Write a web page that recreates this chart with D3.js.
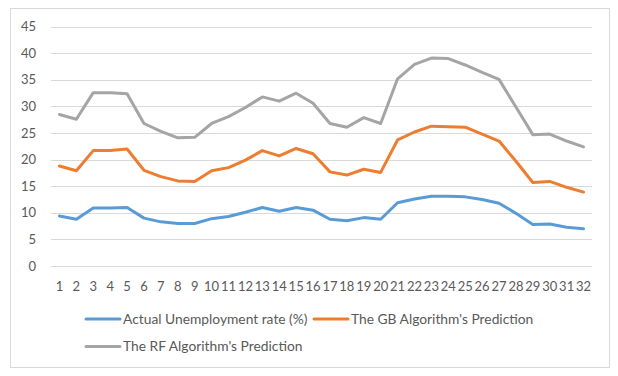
<!DOCTYPE html>
<html>
<head>
<meta charset="utf-8">
<script src="https://cdn.jsdelivr.net/npm/d3@7"></script>
<style>
  body { margin: 0; background: #fff; }
  text { font-family: Lato, "Open Sans", sans-serif; fill: #595959; }
</style>
</head>
<body>
<div id="chart"></div>
<script>
let width = 618;
let height = 376;

// datos
const periods = d3.range(1, 33);
const actual = [9.4, 8.8, 10.9, 10.9, 11.0, 9.0, 8.3, 8.0, 8.0, 8.9, 9.3, 10.1, 11.0, 10.3, 11.0, 10.5,
                8.8, 8.5, 9.1, 8.8, 11.9, 12.6, 13.1, 13.1, 13.0, 12.5, 11.8, 9.9, 7.8, 7.9, 7.3, 7.0];
const gbPred = [18.8, 17.9, 21.7, 21.7, 22.0, 18.0, 16.8, 16.0, 15.9, 17.9, 18.5, 19.9, 21.7, 20.7, 22.1, 21.1,
                17.7, 17.1, 18.2, 17.6, 23.7, 25.2, 26.3, 26.2, 26.1, 24.8, 23.5, 19.7, 15.7, 15.9, 14.8, 13.9];
const rfPred = [28.5, 27.6, 32.6, 32.6, 32.4, 26.8, 25.3, 24.1, 24.2, 26.8, 28.1, 29.8, 31.8, 31.0, 32.5, 30.6,
                26.8, 26.1, 27.9, 26.8, 35.2, 37.9, 39.1, 39.0, 37.8, 36.4, 35.1, 29.9, 24.7, 24.8, 23.5, 22.4];
const yTicks = [0, 5, 10, 15, 20, 25, 30, 35, 40, 45];

const series = [
    { name: "Actual Unemployment rate (%)", values: actual, color: "#5b9bd5" },
    { name: "The GB Algorithm's Prediction", values: gbPred, color: "#ed7d31" },
    { name: "The RF Algorithm's Prediction", values: rfPred, color: "#a5a5a5" }
];

let svg = d3.select("#chart").append("svg")
    .attr("width", width)
    .attr("height", height);

// marco
svg.append("rect")
    .attr("x", 10.5).attr("y", 8.5)
    .attr("width", 599).attr("height", 359)
    .attr("fill", "#fff")
    .attr("stroke", "#d9d9d9");

const x = d3.scaleBand().domain(periods).range([51, 592]);
const y = d3.scaleLinear().domain([0, 45]).range([266, 26.7]);

// rejilla
svg.append("g")
    .selectAll("line")
    .data(yTicks)
    .enter()
    .append("line")
    .attr("x1", 51).attr("x2", 592)
    .attr("y1", d => Math.round(y(d)) + 0.5)
    .attr("y2", d => Math.round(y(d)) + 0.5)
    .attr("stroke", "#d9d9d9")
    .attr("stroke-width", 1);

// ejes
svg.append("g")
    .selectAll("text")
    .data(yTicks)
    .enter()
    .append("text")
    .attr("x", 36)
    .attr("y", d => y(d))
    .attr("dy", "0.35em")
    .attr("text-anchor", "end")
    .style("font-size", "13px")
    .text(d => d);

svg.append("g")
    .selectAll("text")
    .data(periods)
    .enter()
    .append("text")
    .attr("x", d => x(d) + x.bandwidth() / 2)
    .attr("y", 291)
    .attr("text-anchor", "middle")
    .style("font-size", "13px")
    .text(d => d);

// lineas
const line = d3.line()
    .x((d, i) => x(periods[i]) + x.bandwidth() / 2)
    .y(d => y(d));

svg.append("g")
    .selectAll("path")
    .data(series)
    .enter()
    .append("path")
    .attr("d", d => line(d.values))
    .attr("fill", "none")
    .attr("stroke", d => d.color)
    .attr("stroke-width", 3)
    .attr("stroke-linejoin", "round")
    .attr("stroke-linecap", "round");

// leyenda
const legendPos = [[86, 319], [314, 319], [86, 346.5]];
let legend = svg.append("g")
    .selectAll("g")
    .data(series)
    .enter()
    .append("g")
    .attr("transform", (d, i) => "translate(" + legendPos[i][0] + "," + legendPos[i][1] + ")");

legend.append("line")
    .attr("x1", 0).attr("x2", 34)
    .attr("stroke", d => d.color)
    .attr("stroke-width", 3)
    .attr("stroke-linecap", "round");

legend.append("text")
    .attr("x", 37)
    .attr("dy", "0.35em")
    .style("font-size", "13.8px")
    .text(d => d.name);
</script>
</body>
</html>
